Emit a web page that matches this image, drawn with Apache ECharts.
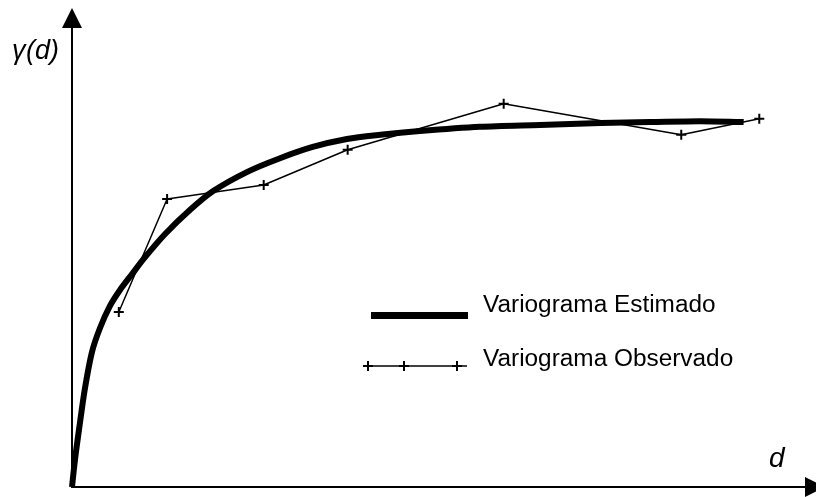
<!DOCTYPE html>
<html>
<head>
<meta charset="utf-8">
<script src="https://cdn.jsdelivr.net/npm/echarts@6/dist/echarts.min.js"></script>
<style>
html,body{margin:0;padding:0;background:#fff;}
#chart{width:816px;height:497px;}
</style>
</head>
<body>
<div id="chart"></div>
<script>
// Estimated variogram (model curve): distance d and gamma values
var estD = [0, 0.40, 0.94, 1.75, 2.69, 3.77, 5.11, 6.46, 8.08, 9.83, 12.5, 15.9, 19.0, 23.6, 28.0, 32.4, 37.0, 41.5, 46.8, 54.9, 63.0, 71.1, 77.8, 84.5, 90.4];
var estG = [0, 5.8, 12.2, 21.1, 28.8, 33.9, 38.6, 42.0, 45.4, 49.0, 53.9, 59.1, 63.1, 67.2, 70.1, 72.5, 74.2, 75.1, 75.9, 76.8, 77.2, 77.6, 77.8, 78.0, 77.8];
// Observed variogram points
var obsD = [6.3, 12.8, 25.8, 37.1, 58.1, 82.0, 92.5];
var obsG = [37.3, 61.4, 64.4, 71.9, 81.7, 75.1, 78.5];

var legendNames = ['Variograma Estimado', 'Variograma Observado'];
var yName = ['γ', '(d)'];
var xName = 'd';

function zip(a, b) { return a.map(function (v, i) { return [v, b[i]]; }); }

var plus = 'path://M4,0 H6 V4 H10 V6 H6 V10 H4 V6 H0 V4 H4 Z';
var fontFam = '"Liberation Sans", Arial, sans-serif';

function crossAt(cx, cy) {
  var h = 5, t = 1;
  return {type: 'polygon', shape: {points: [
    [cx - t, cy - h], [cx + t, cy - h], [cx + t, cy - t], [cx + h, cy - t], [cx + h, cy + t], [cx + t, cy + t],
    [cx + t, cy + h], [cx - t, cy + h], [cx - t, cy + t], [cx - h, cy + t], [cx - h, cy - t], [cx - t, cy - t]
  ]}, style: {fill: '#000'}};
}

var chart = echarts.init(document.getElementById('chart'), null, {renderer: 'canvas'});
chart.setOption({
  animation: false,
  backgroundColor: '#ffffff',
  grid: {left: 72, right: 1, top: 18, bottom: 10, containLabel: false},
  xAxis: {
    type: 'value', min: 0, max: 100,
    axisLine: {show: true, symbol: ['none', 'triangle'], symbolSize: [20, 20], lineStyle: {color: '#000', width: 2}},
    axisTick: {show: false}, axisLabel: {show: false}, splitLine: {show: false}
  },
  yAxis: {
    type: 'value', min: 0, max: 100,
    axisLine: {show: true, symbol: ['none', 'triangle'], symbolSize: [20, 20], lineStyle: {color: '#000', width: 2}},
    axisTick: {show: false}, axisLabel: {show: false}, splitLine: {show: false}
  },
  series: [
    {
      name: legendNames[1], type: 'line', data: zip(obsD, obsG),
      symbol: plus, symbolSize: 10, showSymbol: true,
      lineStyle: {color: '#000', width: 1.5},
      itemStyle: {color: '#000'}, z: 2
    },
    {
      name: legendNames[0], type: 'line', data: zip(estD, estG),
      symbol: 'none', smooth: 0.3,
      lineStyle: {color: '#000', width: 6, cap: 'butt', join: 'round'}, z: 3
    }
  ],
  graphic: [
    {type: 'text', x: 12, y: 38, style: {text: yName[0], fontFamily: fontFam, fontSize: 27, fontStyle: 'italic', fill: '#000'}},
    {type: 'text', x: 26, y: 38, style: {text: yName[1], fontFamily: fontFam, fontSize: 27, fontStyle: 'italic', fill: '#000'}},
    {type: 'text', x: 769, y: 445, style: {text: xName, fontFamily: fontFam, fontSize: 28, fontStyle: 'italic', fill: '#000'}},
    {type: 'rect', shape: {x: 371, y: 312, width: 97, height: 7}, style: {fill: '#000'}},
    {type: 'line', shape: {x1: 363, y1: 366, x2: 467, y2: 366}, style: {stroke: '#000', lineWidth: 1.5}},
    crossAt(368, 366), crossAt(404, 366), crossAt(457, 366),
    {type: 'text', x: 483, y: 305.5, scaleX: 1.06, originX: 0, style: {text: legendNames[0], fontFamily: fontFam, fontSize: 23, fill: '#000', verticalAlign: 'middle'}},
    {type: 'text', x: 483, y: 359.5, scaleX: 1.06, originX: 0, style: {text: legendNames[1], fontFamily: fontFam, fontSize: 23, fill: '#000', verticalAlign: 'middle'}}
  ]
});
</script>
</body>
</html>
